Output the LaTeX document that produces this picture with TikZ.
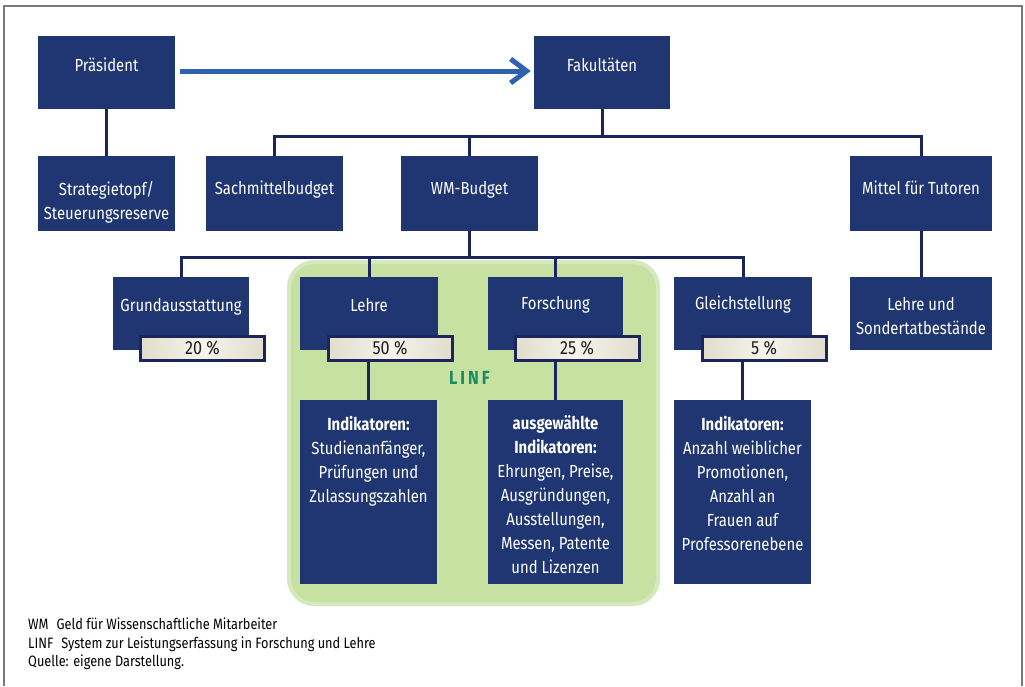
\documentclass[tikz,border=0pt]{standalone}
\usepackage{fontspec}
\setmainfont{Fira Sans}[FakeStretch=0.85]
\usetikzlibrary{arrows.meta}

\definecolor{boxnavy}{RGB}{31,54,114}
\definecolor{linenavy}{RGB}{28,36,92}
\definecolor{arrowblue}{RGB}{46,98,176}
\definecolor{linfarea}{RGB}{199,225,163}
\definecolor{linfedge}{RGB}{214,233,190}
\definecolor{linftext}{RGB}{24,140,92}
\definecolor{pctedge}{RGB}{224,221,204}
\definecolor{pctmid}{RGB}{246,245,237}
\definecolor{framegray}{RGB}{120,120,120}
\definecolor{pcttext}{RGB}{30,30,30}

\tikzset{
  navybox/.style={fill=boxnavy, inner sep=0pt},
  btext/.style={anchor=north, inner sep=0pt, text=white, align=center,
                font={\fontsize{17.5pt}{24pt}\selectfont}},
  pctbox/.style={draw=linenavy, line width=3pt, left color=pctedge, right color=pctedge,
                 middle color=pctmid, minimum width=124pt, minimum height=24pt,
                 inner sep=0pt, text=pcttext, font={\fontsize{19pt}{20pt}\selectfont}},
  conn/.style={draw=linenavy, line width=3pt},
  bigarrow/.style={draw=arrowblue, line width=5pt,
                   -{Straight Barb[length=16pt,width=24pt]}},
  foot/.style={anchor=base west, inner sep=0pt, text=black,
               font={\fontsize{15pt}{18pt}\selectfont}},
}

\begin{document}
\begin{tikzpicture}[x=1pt, y=-1pt]
\useasboundingbox (0,0) rectangle (1025,686);
\fill[white] (0,0) rectangle (1025,686);

% page frame, open at the bottom
\draw[framegray, line width=2pt] (4,686) -- (4,6) -- (1022,6) -- (1022,686);

% LINF area behind the teaching and research branches
\fill[linfedge, rounded corners=27pt] (287,260) rectangle (660,606);
\fill[linfarea, rounded corners=24pt] (291,264) rectangle (656,602);

% level 1
\node[navybox, minimum width=137pt, minimum height=73pt] (pres) at (106.5,72.5) {};
\node[navybox, minimum width=136pt, minimum height=73pt] (fak)  at (602,72.5) {};

% level 2
\node[navybox, minimum width=137pt, minimum height=75pt] (strat) at (106.5,193.5) {};
\node[navybox, minimum width=137pt, minimum height=75pt] (sach)  at (274.5,193.5) {};
\node[navybox, minimum width=137pt, minimum height=75pt] (wm)    at (469.5,193.5) {};
\node[navybox, minimum width=142pt, minimum height=75pt] (tut)   at (921,193.5) {};

% level 3
\node[navybox, minimum width=136pt, minimum height=73pt] (grund)  at (181,313.5) {};
\node[navybox, minimum width=138pt, minimum height=73pt] (lehre)  at (369,313.5) {};
\node[navybox, minimum width=135pt, minimum height=73pt] (forsch) at (555.5,313.5) {};
\node[navybox, minimum width=138pt, minimum height=73pt] (gleich) at (743,313.5) {};
\node[navybox, minimum width=142pt, minimum height=73pt] (lus)    at (921,313.5) {};

% indicator boxes
\node[navybox, minimum width=137pt, minimum height=184pt] (ilehre)  at (368.5,492) {};
\node[navybox, minimum width=135pt, minimum height=184pt] (iforsch) at (555.5,492) {};
\node[navybox, minimum width=137pt, minimum height=184pt] (igleich) at (742.5,492) {};

% junctions of the two distribution bars
\coordinate (busA) at (602,136);
\coordinate (busB) at (469.5,257);

% connectors
\draw[conn] (pres.south) -- (strat.north);
\draw[conn] (fak.south) -- (busA);
\draw[conn] (sach.north) |- (busA) -| (tut.north);
\draw[conn] (wm.north) -- (wm.north |- busA);
\draw[conn] (tut.south) -- (lus.north);
\draw[conn] (wm.south) -- (busB);
\draw[conn] (grund.north) |- (busB) -| (gleich.north);
\draw[conn] (lehre.north) -- (lehre.north |- busB);
\draw[conn] (forsch.north) -- (forsch.north |- busB);

% percentage shares
\node[pctbox] (pgrund)  at (202.5,348.5) {20 \%};
\node[pctbox] (plehre)  at (390,348.5)   {50 \%};
\node[pctbox] (pforsch) at (577,348.5)   {25 \%};
\node[pctbox] (pgleich) at (764,348.5)   {5 \%};

\draw[conn] (ilehre.north)  -- (ilehre.north  |- plehre.south);
\draw[conn] (iforsch.north) -- (iforsch.north |- pforsch.south);
\draw[conn] (igleich.north) -- (igleich.north |- pgleich.south);

% allocation arrow
\draw[bigarrow, shorten <=5pt, shorten >=3pt] (pres.east) ++(0,-1.5) coordinate (arrstart)
  (arrstart) -- (arrstart -| fak.west);

% box labels
\node[btext] (pres-t)   at ([yshift=-22pt]pres.north) {Präsident};
\node[btext] (fak-t)    at ([yshift=-22pt]fak.north) {Fakultäten};
\node[btext] (strat-t)  at ([yshift=-25pt]strat.north) {Strategietopf/\\Steuerungsreserve};
\node[btext] (sach-t)   at ([yshift=-25pt]sach.north) {Sachmittelbudget};
\node[btext] (wm-t)     at ([yshift=-25pt]wm.north) {WM-Budget};
\node[btext] (tut-t)    at ([yshift=-25pt]tut.north) {Mittel für Tutoren};
\node[btext] (grund-t)  at ([yshift=-21pt]grund.north) {Grundausstattung};
\node[btext] (lehre-t)  at ([yshift=-21pt]lehre.north) {Lehre};
\node[btext] (forsch-t) at ([yshift=-19pt]forsch.north) {Forschung};
\node[btext] (gleich-t) at ([yshift=-19pt]gleich.north) {Gleichstellung};
\node[btext] (lus-t)    at ([yshift=-20pt]lus.north) {Lehre und\\Sondertatbestände};

\node[btext] (ilehre-t) at ([yshift=-16pt]ilehre.north)
  {\textbf{Indikatoren:}\\Studienanfänger,\\Prüfungen und\\Zulassungszahlen};
\node[btext] (iforsch-t) at ([yshift=-16pt]iforsch.north)
  {\textbf{ausgewählte}\\\textbf{Indikatoren:}\\Ehrungen, Preise,\\Ausgründungen,\\Ausstellungen,\\Messen, Patente\\und Lizenzen};
\node[btext] (igleich-t) at ([yshift=-16pt]igleich.north)
  {\textbf{Indikatoren:}\\Anzahl weiblicher\\Promotionen,\\Anzahl an\\Frauen auf\\Professorenebene};

% LINF tag
\node[inner sep=0pt, text=linftext, font={\fontsize{19pt}{20pt}\selectfont\bfseries\addfontfeatures{LetterSpace=16}}]
  (linf) at (469.5,378) {LINF};

% legend and source
\node[foot] (foot1) at (28,629.5) {WM\hspace{8pt}Geld für Wissenschaftliche Mitarbeiter};
\node[foot] (foot2) at (28,648.5) {LINF\hspace{8pt}System zur Leistungserfassung in Forschung und Lehre};
\node[foot] (foot3) at (28,666)   {Quelle: eigene Darstellung.};
\end{tikzpicture}
\end{document}
